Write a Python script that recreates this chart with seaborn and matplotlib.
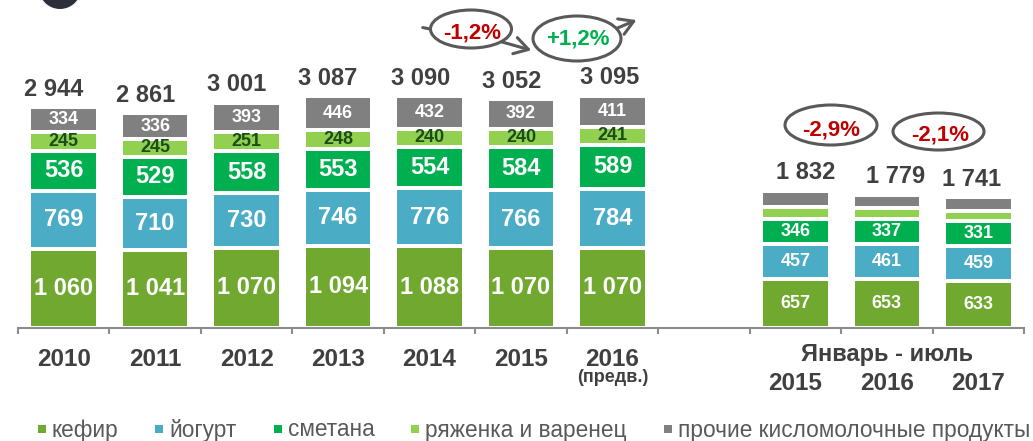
"""Fermented dairy production by category, stacked bars with YTD comparison."""

import matplotlib.pyplot as plt
import matplotlib.transforms as mtransforms
import pandas as pd
import seaborn as sns
from matplotlib.lines import Line2D
from matplotlib.patches import Ellipse, FancyArrowPatch

# --- data -------------------------------------------------------------------
years = ["2010", "2011", "2012", "2013", "2014", "2015", "2016"]
ytd_years = ["2015", "2016", "2017"]
ytd_title = "Январь - июль"
prelim_note = "(предв.)"

segments = ["кефир", "йогурт", "сметана", "ряженка и варенец",
            "прочие кисломолочные продукты"]
kefir = [1060, 1041, 1070, 1094, 1088, 1070, 1070, 657, 653, 633]
yogurt = [769, 710, 730, 746, 776, 766, 784, 457, 461, 459]
smetana = [536, 529, 558, 553, 554, 584, 589, 346, 337, 331]
ryazhenka = [245, 245, 251, 248, 240, 240, 241, 147, 144, 139]
other = [334, 336, 393, 446, 432, 392, 411, 225, 184, 179]
totals = [2944, 2861, 3001, 3087, 3090, 3052, 3095, 1832, 1779, 1741]

annual_changes = ["-1,2%", "+1,2%"]
ytd_changes = ["-2,9%", "-2,1%"]

# --- style ------------------------------------------------------------------
colors = ["#70a830", "#4bacc6", "#00b050", "#92d050", "#808080"]
TEXT = "#404040"
RING = "#595959"
RED = "#c00000"
GREEN = "#00b050"

W, H, DPI = 1033, 441, 100


def fx(px):
    return px / W


def fy(py):
    return 1 - py / H


sns.set_theme(style="white")
plt.rcParams["font.family"] = ["Liberation Sans", "DejaVu Sans"]

fig = plt.figure(figsize=(W / DPI, H / DPI), dpi=DPI)
ax = fig.add_axes([fx(18), fy(328), 1006 / W, 270 / H])

ytd_keys = [f"{ytd_title} {y}" for y in ytd_years]
categories = years + ytd_keys
order = years + [""] + ytd_keys

df = pd.DataFrame({"cat": categories, segments[0]: kefir, segments[1]: yogurt,
                   segments[2]: smetana, segments[3]: ryazhenka, segments[4]: other})
cum = df[segments].cumsum(axis=1)

# stacked look: draw cumulative heights from the top layer down
for seg, color in reversed(list(zip(segments, colors))):
    sns.barplot(
        data=pd.DataFrame({"cat": df["cat"], "top": cum[seg]}),
        x="cat", y="top", order=order, color=color, saturation=1,
        width=0.75, edgecolor="white", linewidth=2.9, errorbar=None, ax=ax,
    )

ax.set_xlim(-0.5, len(order) - 0.5)
ax.set_ylim(0, 3600)
ax.set_xlabel("")
ax.set_ylabel("")
ax.set_yticks([])
ax.set_xticks([i - 0.5 for i in range(len(order) + 1)])
ax.set_xticklabels([])
ax.tick_params(axis="x", direction="out", length=4.3, width=1.5, color="#8c8c8c", bottom=True)
for side in ["left", "right", "top"]:
    ax.spines[side].set_visible(False)
ax.spines["bottom"].set_color("#8c8c8c")
ax.spines["bottom"].set_linewidth(1.5)


def fmt(v):
    return f"{v:,}".replace(",", " ")


# segment values
for i, cat in enumerate(categories):
    x = order.index(cat)
    ytd = cat in ytd_keys
    bottom = 0
    for k, seg in enumerate(segments):
        v = df.loc[i, seg]
        mid = bottom + v / 2
        bottom += v
        if ytd:
            if k < 3:
                ax.text(x, mid, fmt(v), ha="center", va="center", fontsize=13,
                        fontweight="bold", color="white")
            continue
        if k < 3:
            size, col = 17, "white"
        elif k == 3:
            size, col = 13, "#1a4d1a"
        else:
            size, col = 13, "white"
        ax.text(x, mid, fmt(v), ha="center", va="center", fontsize=size,
                fontweight="bold", color=col)

# totals above bars (small horizontal offsets follow the source text boxes)
total_dx = [-10, -10, -10, -10, -9, -9, -3, 10, 9, -7]
for i, cat in enumerate(categories):
    x = order.index(cat)
    ax.annotate(fmt(totals[i]), (x, totals[i]), xytext=(total_dx[i] * 0.72, 13),
                textcoords="offset points", ha="center", va="center", fontsize=17,
                fontweight="bold", color=TEXT, annotation_clip=False)

# category labels
blend = mtransforms.blended_transform_factory(ax.transData, fig.transFigure)
for y in years:
    ax.text(order.index(y), fy(359), y, transform=blend, ha="center", va="center",
            fontsize=17.5, fontweight="bold", color=TEXT)
ax.text(order.index(years[-1]), fy(378), prelim_note, transform=blend, ha="center",
        va="center", fontsize=13, fontweight="bold", color=TEXT)
ax.text(order.index(ytd_keys[1]), fy(355), ytd_title, transform=blend, ha="center",
        va="center", fontsize=17, fontweight="bold", color=TEXT)
for key, y in zip(ytd_keys, ytd_years):
    ax.text(order.index(key), fy(384), y, transform=blend, ha="center", va="center",
            fontsize=17.5, fontweight="bold", color=TEXT)

# growth rings with connectors
arrow_kw = dict(transform=fig.transFigure, color=RING, lw=2.2, mutation_scale=20)
fig.add_artist(FancyArrowPatch((fx(420), fy(27)), (fx(445), fy(32)), arrowstyle="-", **arrow_kw))
fig.add_artist(FancyArrowPatch((fx(495), fy(40)), (fx(534), fy(51)),
                               arrowstyle="->,head_length=0.5,head_width=0.3", **arrow_kw))
fig.add_artist(FancyArrowPatch((fx(608), fy(32)), (fx(639), fy(19)),
                               arrowstyle="->,head_length=0.5,head_width=0.3", **arrow_kw))

rings = [
    ((471, 29, 81, 38), (472, 33), annual_changes[0], RED),
    ((577, 38.5, 88, 45), (578, 39), annual_changes[1], GREEN),
    ((831, 125, 92, 40), (831, 130), ytd_changes[0], RED),
    ((938.5, 131.5, 91, 37), (940, 135), ytd_changes[1], RED),
]
for (cx, cy, w, h), (tx, ty), label, col in rings:
    fig.add_artist(Ellipse((fx(cx), fy(cy)), w / W, h / H, transform=fig.transFigure,
                           facecolor="white", edgecolor=RING, lw=2.2))
    fig.text(fx(tx), fy(ty), label, ha="center", va="center", fontsize=16,
             fontweight="bold", color=col)

# cropped logo fragment in the top-left corner
fig.add_artist(Ellipse((fx(60), fy(-12)), 42 / W, 42 / H, transform=fig.transFigure,
                       facecolor="#2b2f3a", edgecolor="none"))

# legend
handles = [Line2D([], [], marker="s", linestyle="", markersize=5.8,
                  markerfacecolor=c, markeredgewidth=0) for c in colors]
fig.legend(handles, segments, loc="center left", bbox_to_anchor=(fx(36), fy(430)),
           ncol=5, frameon=False, fontsize=16.3, handlelength=0.5, handletextpad=0.2,
           columnspacing=1.55, borderpad=0, borderaxespad=0, labelcolor="#595959")

fig.savefig("out.png", dpi=DPI)
